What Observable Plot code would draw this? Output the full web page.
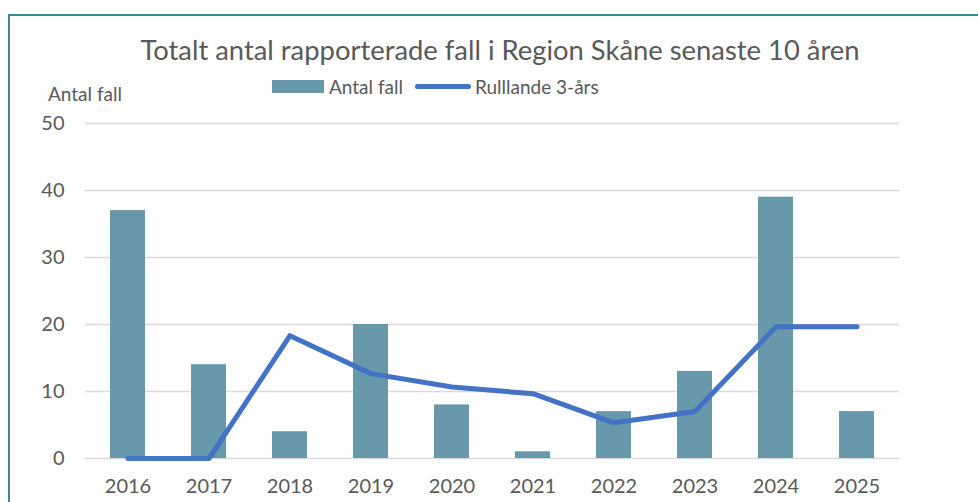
<!DOCTYPE html>
<html><head><meta charset="utf-8">
<script src="https://cdn.jsdelivr.net/npm/d3@7"></script>
<script src="https://cdn.jsdelivr.net/npm/@observablehq/plot@0.6"></script>
<style>
html,body{margin:0;padding:0;background:#fff;overflow:hidden;width:978px;height:502px;font-family:Lato,"Open Sans",sans-serif;}
#frame{position:absolute;left:8px;top:14px;width:1100px;height:700px;border:2px solid #3b8a9b;box-sizing:border-box;}
#chart{position:absolute;left:0;top:0;}
.t{position:absolute;color:#595959;white-space:nowrap;}
</style></head>
<body>
<div id="frame"></div>
<div id="chart"></div>
<div class="t" id="title" style="left:0;width:1000px;text-align:center;top:33px;font-size:27.4px;">Totalt antal rapporterade fall i Region Skåne senaste 10 åren</div>
<div class="t" style="left:48px;top:82px;font-size:19px;">Antal fall</div>
<div class="t" style="left:272px;top:75px;font-size:19px;display:flex;align-items:center;">
  <span style="display:inline-block;width:52px;height:13px;background:#6899aa;margin-right:5px;"></span>Antal fall
  <span style="display:inline-block;width:56px;height:5px;border-radius:3px;background:#4472c4;margin:0 4px 0 12px;"></span>Rulllande 3-års
</div>
<script>
const years = ["2016","2017","2018","2019","2020","2021","2022","2023","2024","2025"];
const cases = [37, 14, 4, 20, 8, 1, 7, 13, 39, 7];
const rolling = [0, 0, 18.33, 12.67, 10.67, 9.67, 5.33, 7, 19.67, 19.67];
const yTicks = [0, 10, 20, 30, 40, 50];

const data = years.map((y, i) => ({year: y, cases: cases[i], rolling: rolling[i]}));

const chart = Plot.plot({
  width: 978,
  height: 502,
  marginLeft: 85,
  marginRight: 79,
  marginTop: 123,
  marginBottom: 44,
  style: {fontFamily: "Lato, 'Open Sans', sans-serif", fontSize: "20px", color: "#595959", background: "transparent"},
  x: {domain: years, paddingInner: 0.57, paddingOuter: 0.285, label: null},
  y: {domain: [0, 50], label: null},
  marks: [
    Plot.gridY(yTicks, {stroke: "#d9d9d9", strokeOpacity: 1, strokeWidth: 1.5}),
    Plot.barY(data, {x: "year", y: "cases", fill: "#6899aa"}),
    Plot.line(data, {x: "year", y: "rolling", stroke: "#4472c4", strokeWidth: 5, strokeLinejoin: "round", strokeLinecap: "round"}),
    Plot.axisY(yTicks, {tickSize: 0, tickPadding: 21, fontSize: 20, fill: "#595959"}),
    Plot.axisX({tickSize: 0, tickPadding: 20, fontSize: 20, fill: "#595959"})
  ]
});
document.getElementById("chart").appendChild(chart);
</script>
</body></html>
